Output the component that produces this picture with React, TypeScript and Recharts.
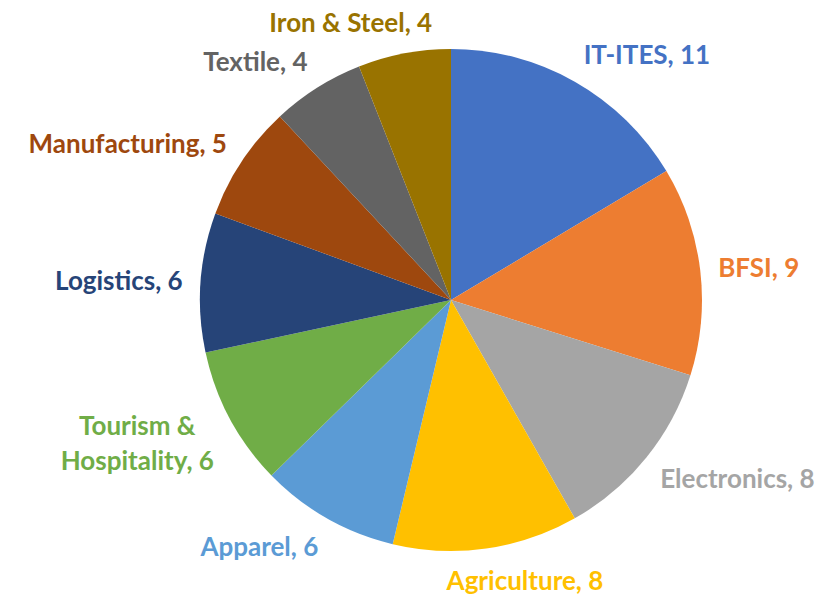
import { PieChart, Pie, Cell } from 'recharts'

const categories = [
  'IT-ITES',
  'BFSI',
  'Electronics',
  'Agriculture',
  'Apparel',
  'Tourism & Hospitality',
  'Logistics',
  'Manufacturing',
  'Textile',
  'Iron & Steel',
]
const values = [11, 9, 8, 8, 6, 6, 6, 5, 4, 4]

const COLORS = ['#4472C4', '#ED7D31', '#A5A5A5', '#FFC000', '#5B9BD5', '#70AD47', '#264478', '#9E480E', '#636363', '#997300']

const data = categories.map((name, i) => ({ name, value: values[i] }))

const FONT = 'bold 26px Lato'
const LINE_H = 35
const MAX_W = 240

let ctx: CanvasRenderingContext2D | null = null
function measure(text: string) {
  if (!ctx) ctx = document.createElement('canvas').getContext('2d')
  if (!ctx) return text.length * 13
  ctx.font = FONT
  return ctx.measureText(text).width
}

function wrap(text: string) {
  const words = text.split(' ')
  const lines: string[] = []
  let cur = ''
  words.forEach((w) => {
    const next = cur ? cur + ' ' + w : w
    if (cur && measure(next) > MAX_W) {
      lines.push(cur)
      cur = w
    } else {
      cur = next
    }
  })
  if (cur) lines.push(cur)
  return lines
}

const RADIAN = Math.PI / 180

function renderLabel(props: any) {
  const { cx, cy, midAngle, outerRadius, index } = props
  const lines = wrap(`${categories[index]}, ${values[index]}`)
  const w = Math.max(...lines.map(measure))
  const h = lines.length * LINE_H - 7
  const dx = Math.cos(-midAngle * RADIAN)
  const dy = Math.sin(-midAngle * RADIAN)
  const r = outerRadius + 18
  const kx = Math.max(-1, Math.min(1, dx * 3.3))
  const x = cx + r * dx + (w / 2) * kx
  const y = cy + r * dy + (h / 2) * dy
  const top = y - ((lines.length - 1) * LINE_H) / 2
  return (
    <text
      x={x}
      y={top}
      fill={COLORS[index % COLORS.length]}
      textAnchor="middle"
      dominantBaseline="central"
      style={{ font: FONT }}
    >
      {lines.map((l, i) => (
        <tspan key={i} x={x} dy={i === 0 ? 0 : LINE_H}>
          {l}
        </tspan>
      ))}
    </text>
  )
}

export default function App() {
  return (
    <div style={{ width: 820, height: 586, background: '#fff' }}>
      <PieChart
        width={820}
        height={586}
        margin={{ top: 0, right: 0, bottom: 0, left: 0 }}
        style={{ overflow: 'visible' }}
      >
        <Pie
          data={data}
          dataKey="value"
          nameKey="name"
          cx={443}
          cy={292}
          outerRadius={251}
          startAngle={90}
          endAngle={-270}
          stroke="none"
          labelLine={false}
          label={renderLabel}
          isAnimationActive={false}
        >
          {data.map((entry, index) => (
            <Cell key={`cell-${index}`} fill={COLORS[index % COLORS.length]} />
          ))}
        </Pie>
      </PieChart>
    </div>
  )
}
